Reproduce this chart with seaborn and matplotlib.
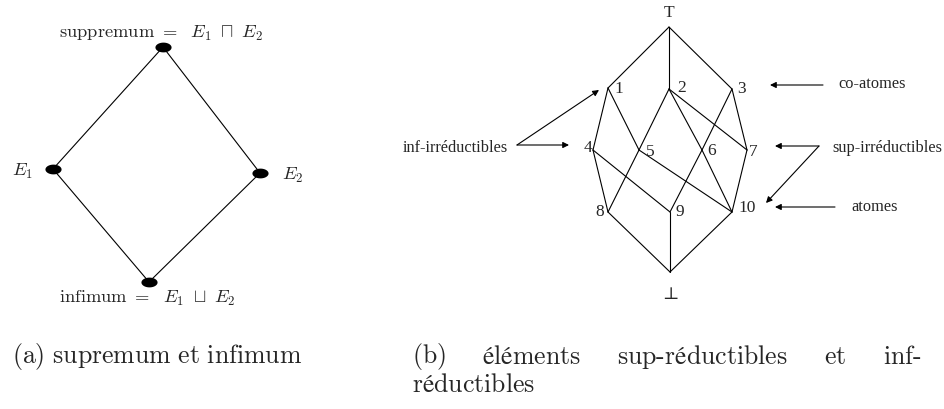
import numpy as np
import pandas as pd
import matplotlib
matplotlib.use("Agg")
import matplotlib.pyplot as plt
from matplotlib.path import Path
import seaborn as sns

# ---------------- data ----------------
# (a) diamond lattice: node names, layout positions (pixel-like units)
left_nodes = ["sup", "E1", "E2", "inf"]
left_x = [163, 53, 260, 149]
left_y = [48, 170, 174, 283]
left_edges = [("sup", "E1"), ("sup", "E2"), ("E1", "inf"), ("E2", "inf")]

# (b) lattice with 10 elements plus top and bottom
right_nodes = ["T", "1", "2", "3", "4", "5", "6", "7", "8", "9", "10", "B"]
right_x = [669, 608, 669, 732, 593, 639, 702, 747, 608, 670, 732, 670]
right_y = [28, 89, 90, 90, 151, 151, 151, 151, 213, 213, 213, 273]
right_edges = [("T", "1"), ("T", "2"), ("T", "3"),
               ("1", "4"), ("1", "5"),
               ("2", "5"), ("2", "6"), ("2", "7"),
               ("3", "6"), ("3", "7"),
               ("4", "8"), ("4", "9"),
               ("5", "8"), ("5", "10"),
               ("6", "9"), ("6", "10"),
               ("7", "10"),
               ("8", "B"), ("9", "B"), ("10", "B")]
right_labels = ["T", "1", "2", "3", "4", "5", "6", "7", "8", "9", "10", "\u22a5"]
right_label_x = [669, 619, 682, 742, 588, 650, 712, 753, 600, 680, 747, 670]
right_label_y = [13, 89, 88, 89, 148, 152, 151, 152, 212, 212, 208, 295]

# annotations (text, text position, arrow targets)
ann_texts = ["inf-irréductibles", "co-atomes", "sup-irréductibles", "atomes"]
ann_text_x = [403, 838, 832, 851]
ann_text_y = [148, 84, 148, 207]
ann_starts = [(517, 146), (517, 146), (823, 86), (819, 147), (819, 147), (835, 208)]
ann_ends = [(599, 91), (569, 146), (770, 86), (775, 147), (766, 204), (775, 208)]

# captions
cap_a = r"$\mathrm{(a)\ supremum\ et\ infimum}$"
cap_b_words = [r"$\mathrm{(b)}$", r"$\mathrm{éléments}$", r"$\mathrm{sup}$-$\mathrm{réductibles}$",
               r"$\mathrm{et}$", r"$\mathrm{inf}$-"]
cap_b_line2 = r"$\mathrm{réductibles}$"

# ---------------- figure ----------------
sns.set_theme(style="white")
plt.rcParams["mathtext.fontset"] = "cm"
fig = plt.figure(figsize=(9.44, 4.10), dpi=100)
ax = fig.add_axes([0, 0, 1, 1])

lw = 0.8
# left edges
lpos = dict(zip(left_nodes, zip(left_x, left_y)))
for a, b in left_edges:
    ax.plot([lpos[a][0], lpos[b][0]], [lpos[a][1], lpos[b][1]], color="black", lw=lw, zorder=1)

# ellipse marker
t = np.linspace(0, 2 * np.pi, 60)
ell = Path(np.c_[1.65 * np.cos(t), np.sin(t)], closed=True)
df_left = pd.DataFrame({"x": left_x, "y": left_y, "node": left_nodes})
sns.scatterplot(data=df_left, x="x", y="y", marker=ell, s=135, color="black",
                edgecolor="black", linewidth=0, ax=ax, zorder=3, legend=False)
ax.set_xlim(0, 944)
ax.set_ylim(410, 0)
ax.axis("off")

fs_cm = 13.3
ax.text(161, 33, r"$\mathrm{suppremum}\ =\ \ E_1\ \sqcap\ E_2$", ha="center", va="center", fontsize=fs_cm)
ax.text(22, 171, r"$E_1$", ha="center", va="center", fontsize=fs_cm)
ax.text(293, 175, r"$E_2$", ha="center", va="center", fontsize=fs_cm)
ax.text(147, 298, r"$\mathrm{infimum}\ =\ \ E_1\ \sqcup\ E_2$", ha="center", va="center", fontsize=fs_cm)

# right edges
rpos = dict(zip(right_nodes, zip(right_x, right_y)))
for a, b in right_edges:
    ax.plot([rpos[a][0], rpos[b][0]], [rpos[a][1], rpos[b][1]], color="black", lw=lw, zorder=1)

serif = ["Liberation Serif", "DejaVu Serif"]
for lab, x, y in zip(right_labels, right_label_x, right_label_y):
    ax.text(x, y, lab, ha="center", va="center", fontsize=12.5, family=serif)

for txt, x, y in zip(ann_texts, ann_text_x, ann_text_y):
    ax.text(x, y, txt, ha="left", va="center", fontsize=11.8, family=serif)

for (x0, y0), (x1, y1) in zip(ann_starts, ann_ends):
    ax.annotate("", xy=(x1, y1), xytext=(x0, y0),
                arrowprops=dict(arrowstyle="-|>", lw=0.8, color="black",
                                mutation_scale=9, shrinkA=0, shrinkB=0))

# captions (second caption justified like LaTeX text)
fs_cap = 18.6
y1, y2 = 357, 385
ax.text(12, y1, cap_a, ha="left", va="center", fontsize=fs_cap, family="cmr10")

left_edge, right_edge = 412, 921
words = [ax.text(0, y1, w, ha="left", va="center", fontsize=fs_cap, family="cmr10")
         for w in cap_b_words]
fig.canvas.draw()
renderer = fig.canvas.get_renderer()
widths = [w.get_window_extent(renderer).width for w in words]
gap = (right_edge - left_edge - sum(widths)) / (len(words) - 1)
xcur = left_edge
for w, wd in zip(words, widths):
    w.set_x(xcur)
    xcur += wd + gap
ax.text(left_edge, y2, cap_b_line2, ha="left", va="center", fontsize=fs_cap, family="cmr10")

fig.savefig("out.png", dpi=100)
